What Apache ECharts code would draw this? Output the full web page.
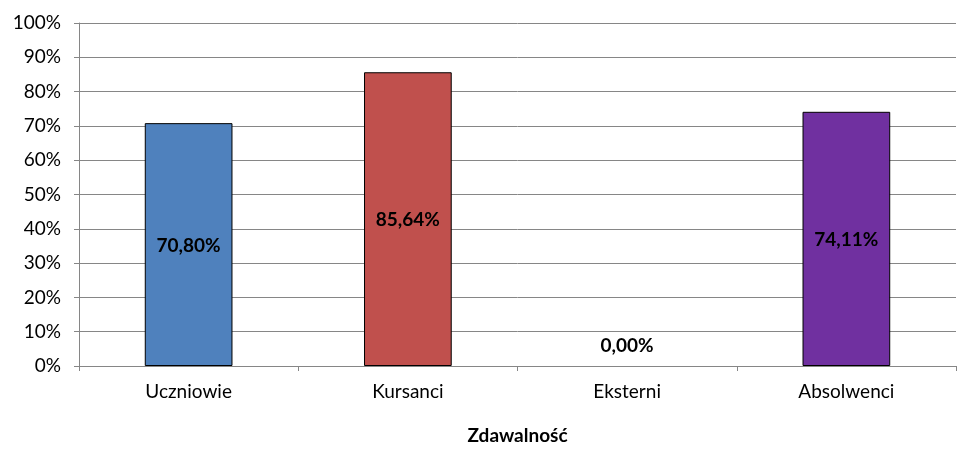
<!DOCTYPE html>
<html><head><meta charset="utf-8">
<script src="https://cdn.jsdelivr.net/npm/echarts@6/dist/echarts.min.js"></script>
<style>html,body{margin:0;padding:0;background:#fff}#c{width:980px;height:463px}</style>
</head><body><div id="c"></div>
<script>
const categories = ['Uczniowie', 'Kursanci', 'Eksterni', 'Absolwenci'];
const values = [70.80, 85.64, 0.00, 74.11];
const colors = ['#4F81BD', '#C0504D', '#9BBB59', '#7030A0'];
const yTicks = [0, 10, 20, 30, 40, 50, 60, 70, 80, 90, 100];
const xName = 'Zdawalność';

const font = 'Lato, "Open Sans", sans-serif';
const chart = echarts.init(document.getElementById('c'), null, {renderer: 'canvas'});
chart.setOption({
  animation: false,
  grid: {left: 79, right: 24, top: 23, bottom: 97},
  xAxis: {
    type: 'category', data: categories,
    name: xName, nameLocation: 'middle', nameGap: 60,
    nameTextStyle: {fontFamily: font, fontWeight: 'bold', fontSize: 19, color: '#000'},
    axisLine: {lineStyle: {color: '#868686'}},
    axisTick: {show: true, length: 5, lineStyle: {color: '#868686'}, alignWithLabel: false},
    axisLabel: {fontFamily: font, fontSize: 19, color: '#000', margin: 16}
  },
  yAxis: {
    type: 'value', min: yTicks[0], max: yTicks[yTicks.length - 1], interval: 10,
    axisLine: {show: true, lineStyle: {color: '#868686'}},
    axisTick: {show: true, length: 5, lineStyle: {color: '#868686'}},
    splitLine: {lineStyle: {color: '#868686'}},
    axisLabel: {fontFamily: font, fontSize: 19, color: '#000', margin: 18, formatter: v => v + '%'}
  },
  series: [{
    type: 'bar', barWidth: '40%',
    data: values.map((v, i) => ({
      value: v,
      itemStyle: {color: colors[i], borderColor: '#000', borderWidth: v === 0 ? 0 : 1},
      label: v === 0 ? {position: 'top', distance: 11} : {position: 'inside', offset: [0, 1]}
    })),
    label: {
      show: true, fontFamily: font, fontWeight: 'bold', fontSize: 19, color: '#000',
      formatter: p => p.value.toFixed(2).replace('.', ',') + '%'
    }
  }]
});
</script></body></html>
